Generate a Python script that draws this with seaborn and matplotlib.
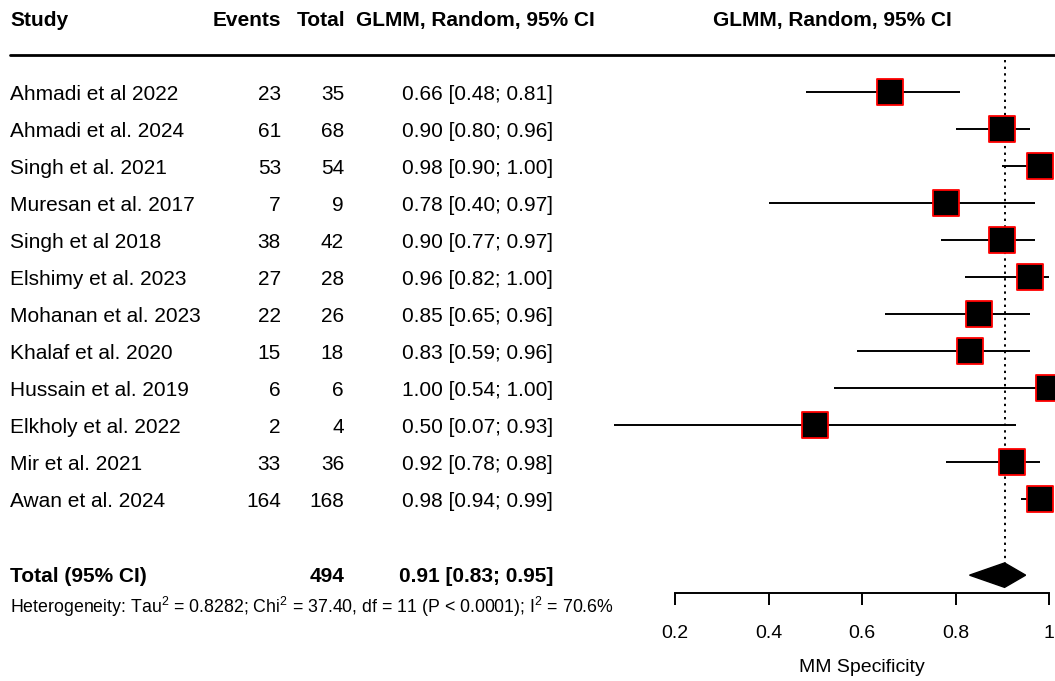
import matplotlib
matplotlib.use("Agg")
import matplotlib.pyplot as plt
import seaborn as sns
import pandas as pd
import numpy as np
from matplotlib.patches import Polygon

studies = ["Ahmadi et al 2022", "Ahmadi et al. 2024", "Singh et al. 2021", "Muresan et al. 2017",
           "Singh et al 2018", "Elshimy et al. 2023", "Mohanan et al. 2023", "Khalaf et al. 2020",
           "Hussain et al. 2019", "Elkholy et al. 2022", "Mir et al. 2021", "Awan et al. 2024"]
events = [23, 61, 53, 7, 38, 27, 22, 15, 6, 2, 33, 164]
totals = [35, 68, 54, 9, 42, 28, 26, 18, 6, 4, 36, 168]
estimates = [0.66, 0.90, 0.98, 0.78, 0.90, 0.96, 0.85, 0.83, 1.00, 0.50, 0.92, 0.98]
ci_low = [0.48, 0.80, 0.90, 0.40, 0.77, 0.82, 0.65, 0.59, 0.54, 0.07, 0.78, 0.94]
ci_high = [0.81, 0.96, 1.00, 0.97, 0.97, 1.00, 0.96, 0.96, 1.00, 0.93, 0.98, 0.99]
total_n = 494
pooled = 0.905
pooled_low = 0.83
pooled_high = 0.95
pooled_label = "0.91 [0.83; 0.95]"
het_text = "Heterogeneity: Tau$^2$ = 0.8282; Chi$^2$ = 37.40, df = 11 (P < 0.0001); I$^2$ = 70.6%"
xticks = [0.2, 0.4, 0.6, 0.8, 1.0]
xticklabels = ["0.2", "0.4", "0.6", "0.8", "1"]

sns.set_style("white")
plt.rcParams['font.family'] = ['Liberation Sans', 'DejaVu Sans']
plt.rcParams['mathtext.fontset'] = 'custom'
plt.rcParams['mathtext.rm'] = 'Liberation Sans'
plt.rcParams['mathtext.it'] = 'Liberation Sans:italic'
plt.rcParams['mathtext.bf'] = 'Liberation Sans:bold'
plt.rcParams['text.color'] = 'black'
plt.rcParams['axes.labelcolor'] = 'black'
plt.rcParams['xtick.color'] = 'black'

W, H = 1055, 681
fig = plt.figure(figsize=(W / 100, H / 100), dpi=100)
ax_bottom_px = 593
ax = fig.add_axes([0, (H - ax_bottom_px) / H, 1, ax_bottom_px / H])

# pixel mapping: 0.2 -> 675 px, 1.0 -> 1049 px
ppu = (1049 - 675) / 0.8
x0 = 0.2 - 675 / ppu
x1 = 0.2 + (W - 675) / ppu
ax.set_xlim(x0, x1)
row_h = 37.0
row0 = 92.3
ax.set_ylim((ax_bottom_px - row0) / row_h, (0 - row0) / row_h)

df = pd.DataFrame({"study": studies, "events": events, "total": totals,
                   "est": estimates, "lo": ci_low, "hi": ci_high})
df["row"] = np.arange(len(df))

# CI lines
ax.hlines(df["row"], df["lo"], df["hi"], color="black", lw=1.4, zorder=2)
# squares
sns.scatterplot(data=df, x="est", y="row", marker="s", s=19.3 ** 2,
                color="black", edgecolor="red", linewidth=1.3, ax=ax, zorder=3, legend=False)

total_row = 13.05
# dotted line
ax.vlines(pooled, -0.88, total_row - 0.33, color="black", lw=1.4, linestyles=(0, (1.2, 2.2)), zorder=1)
# diamond
diam = Polygon([[pooled_low, total_row], [pooled, total_row - 0.33],
                [pooled_high, total_row], [pooled, total_row + 0.33]],
               closed=True, facecolor="black", edgecolor="black", lw=1, zorder=3)
ax.add_patch(diam)

tr = ax.get_yaxis_transform()
# header line
ax.plot([10 / W, 1.0], [-1.0, -1.0], color="black", lw=2, transform=tr, clip_on=False)

fs = 15
dy = 0.06
hy = -2.0 + dy
ax.text(10 / W, hy, "Study", transform=tr, ha="left", va="center", fontsize=fs, fontweight="bold")
ax.text(281 / W, hy, "Events", transform=tr, ha="right", va="center", fontsize=fs, fontweight="bold")
ax.text(345 / W, hy, "Total", transform=tr, ha="right", va="center", fontsize=fs, fontweight="bold")
ax.text(356 / W, hy, "GLMM, Random, 95% CI", transform=tr, ha="left", va="center", fontsize=fs,
        fontweight="bold")
ax.text(832 / W, hy, "GLMM, Random, 95% CI", transform=tr, ha="center", va="center", fontsize=fs,
        fontweight="bold")

for i, r in df.iterrows():
    y = r["row"] + dy
    ax.text(10 / W, y, r["study"], transform=tr, ha="left", va="center", fontsize=fs)
    ax.text(281 / W, y, f"{r['events']}", transform=tr, ha="right", va="center", fontsize=fs)
    ax.text(344 / W, y, f"{r['total']}", transform=tr, ha="right", va="center", fontsize=fs)
    ax.text(553 / W, y, f"{r['est']:.2f} [{r['lo']:.2f}; {r['hi']:.2f}]", transform=tr,
            ha="right", va="center", fontsize=fs)

ty = total_row + dy * 0.5
ax.text(10 / W, ty, "Total (95% CI)", transform=tr, ha="left", va="center", fontsize=fs,
        fontweight="bold")
ax.text(344 / W, ty, f"{total_n}", transform=tr, ha="right", va="center", fontsize=fs,
        fontweight="bold")
ax.text(553 / W, ty, pooled_label, transform=tr, ha="right", va="center", fontsize=fs,
        fontweight="bold")
ax.text(10 / W, 13.92, het_text, transform=tr, ha="left", va="center", fontsize=12.8)

# axis
for s in ["top", "right", "left"]:
    ax.spines[s].set_visible(False)
ax.spines["bottom"].set_bounds(0.2, 1.0)
ax.spines["bottom"].set_linewidth(1.4)
ax.spines["bottom"].set_color("black")
ax.set_yticks([])
ax.set_xticks(xticks)
ax.set_xticklabels(xticklabels)
ax.tick_params(axis="x", bottom=True, direction="out", length=8.6, width=1.4, pad=14.5,
               labelsize=14, colors="black")
ax.set_xlabel("MM Specificity", fontsize=14)
ax.set_ylabel("")
ax.xaxis.set_label_coords(862 / W, -(667 - ax_bottom_px) / ax_bottom_px, transform=ax.transAxes)
ax.xaxis.label.set_va("center")

fig.savefig("out.png", dpi=100)
